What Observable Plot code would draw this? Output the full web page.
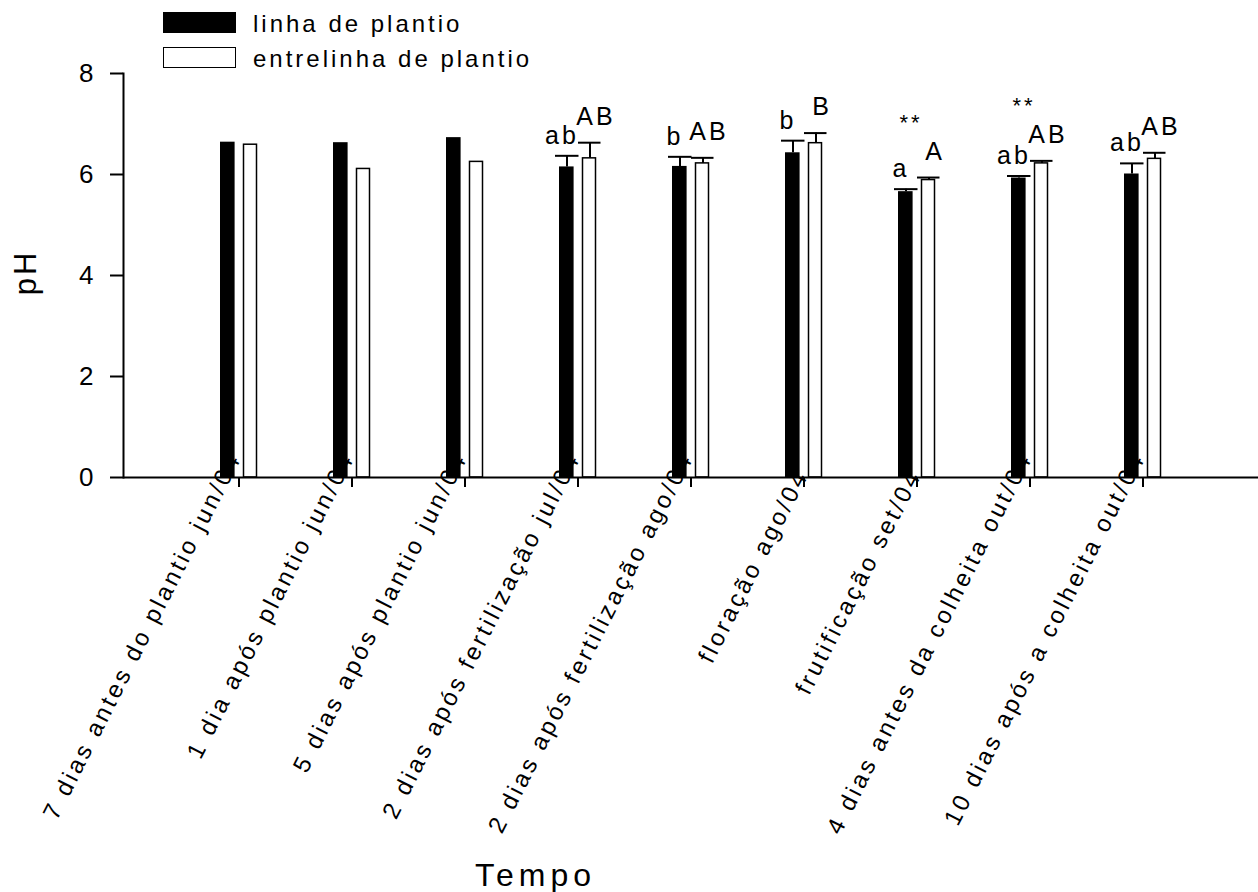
<!DOCTYPE html>
<html>
<head>
<meta charset="utf-8">
<script src="https://cdn.jsdelivr.net/npm/d3@7"></script>
<script src="https://cdn.jsdelivr.net/npm/@observablehq/plot@0.6"></script>
<style>
  html, body { margin: 0; padding: 0; background: #fff; }
  #wrap { position: relative; width: 1258px; height: 892px; font-family: "Liberation Sans", Arial, sans-serif; }
  #wrap svg text { letter-spacing: 3px; }
  .leg { position: absolute; left: 163px; width: 73px; height: 21px; box-sizing: border-box; }
  .legt { position: absolute; left: 253px; font-size: 24px; line-height: 24px; letter-spacing: 3px; color: #000; white-space: nowrap; }
</style>
</head>
<body>
<div id="wrap">
  <div class="leg" style="top:12px;background:#000;"></div>
  <div class="legt" style="top:12px;">linha de plantio</div>
  <div class="leg" style="top:47px;background:#fff;border:1.5px solid #000;"></div>
  <div class="legt" style="top:47px;">entrelinha de plantio</div>
</div>
<script>
const categories = [
  "7 dias antes do plantio jun/04",
  "1 dia após plantio jun/04",
  "5 dias após plantio jun/04",
  "2 dias após fertilização jul/04",
  "2 dias após fertilização ago/04",
  "floração ago/04",
  "frutificação set/04",
  "4 dias antes da colheita out/04",
  "10 dias após a colheita out/04"
];
const linha = [6.64, 6.63, 6.73, 6.15, 6.16, 6.43, 5.66, 5.93, 6.01];
const entrelinha = [6.59, 6.11, 6.25, 6.32, 6.22, 6.62, 5.89, 6.22, 6.31];
const linhaErr = [null, null, null, 0.22, 0.19, 0.24, 0.05, 0.04, 0.21];
const entrelinhaErr = [null, null, null, 0.31, 0.11, 0.20, 0.05, 0.05, 0.12];
const linhaLetters = ["", "", "", "ab", "b", "b", "a", "ab", "ab"];
const entrelinhaLetters = ["", "", "", "AB", "AB", "B", "A", "AB", "AB"];
const signif = ["", "", "", "", "", "", "**", "**", ""];
const yTicks = [0, 2, 4, 6, 8];

const rows = categories.map((c, i) => ({
  cat: c,
  linha: linha[i], entrelinha: entrelinha[i],
  le: linhaErr[i], ee: entrelinhaErr[i],
  ll: linhaLetters[i], el: entrelinhaLetters[i],
  sig: signif[i]
}));
const errRows = rows.filter(d => d.le != null);

const chart = Plot.plot({
  width: 1258,
  height: 892,
  marginLeft: 123,
  marginRight: 0,
  marginTop: 73,
  marginBottom: 415,
  style: {fontFamily: "'Liberation Sans', Arial, sans-serif", fontSize: "24px", color: "#000", background: "#fff", overflow: "visible"},
  x: {type: "band", domain: categories, paddingInner: 0.67, paddingOuter: 0.835, axis: null},
  y: {domain: [0, 8], axis: null},
  marks: [
    // rotated category labels (drawn beneath bars)
    Plot.text(categories.filter(d => d.length > 20), {x: d => d, text: d => d, frameAnchor: "bottom", rotate: -63, textAnchor: "end", lineAnchor: "bottom", dx: 3, dy: -20, fontSize: 24, fill: "#000"}),
    Plot.text(categories.filter(d => d.length <= 20), {x: d => d, text: d => d, frameAnchor: "bottom", rotate: -63, textAnchor: "end", lineAnchor: "bottom", dx: 5, dy: -3, fontSize: 24, fill: "#000"}),
    // bars
    Plot.barY(rows, {x: "cat", y: "linha", fill: "#000", insetRight: 22.4}),
    Plot.barY(rows, {x: "cat", y: "entrelinha", fill: "#fff", stroke: "#000", strokeWidth: 1.5, insetLeft: 23.5, insetRight: 0.5}),
    // error bars
    Plot.ruleX(errRows, {x: "cat", y1: "linha", y2: d => d.linha + d.le, dx: -11, stroke: "#000", strokeWidth: 2}),
    Plot.tickY(errRows, {x: "cat", y: d => d.linha + d.le, insetLeft: -4, insetRight: 17.5, stroke: "#000", strokeWidth: 2}),
    Plot.ruleX(errRows, {x: "cat", y1: "entrelinha", y2: d => d.entrelinha + d.ee, dx: 12, stroke: "#000", strokeWidth: 2}),
    Plot.tickY(errRows, {x: "cat", y: d => d.entrelinha + d.ee, insetLeft: 19, insetRight: -4.5, stroke: "#000", strokeWidth: 2}),
    // letters
    Plot.text(errRows, {x: "cat", y: d => d.linha + d.le, text: "ll", dx: -16, dy: -12, lineAnchor: "bottom", fontSize: 25, fill: "#000"}),
    Plot.text(errRows, {x: "cat", y: d => d.entrelinha + d.ee, text: "el", dx: 18, dy: -18, lineAnchor: "bottom", fontSize: 25, fill: "#000"}),
    Plot.text(errRows.filter(d => d.sig), {x: "cat", y: d => Math.max(d.linha + d.le, d.entrelinha + d.ee), text: "sig", dx: -6, dy: -48, lineAnchor: "bottom", fontSize: 22, fill: "#000"}),
    // axes
    Plot.ruleY([0], {stroke: "#000", strokeWidth: 2}),
    Plot.frame({anchor: "left", stroke: "#000", strokeWidth: 2}),
    Plot.axisY({ticks: yTicks, tickSize: 13, tickPadding: 14, fontSize: 26, stroke: "#000", strokeWidth: 2, label: null}),
    Plot.axisX({tickSize: 10, tickFormat: () => "", stroke: "#000", strokeWidth: 2, label: null}),
    // axis titles
    Plot.text(["pH"], {frameAnchor: "left", rotate: -90, textAnchor: "middle", lineAnchor: "bottom", dx: -88, dy: -3, fontSize: 31, fill: "#000"}),
    Plot.text(["Tempo"], {frameAnchor: "bottom-left", textAnchor: "middle", lineAnchor: "bottom", dx: 412, dy: 408, fontSize: 32, fill: "#000"})
  ]
});
// wider letter spacing on the x-axis title and tick labels, as in the original
d3.select(chart).selectAll("text").each(function() {
  const t = this.textContent;
  if (t === "Tempo") this.style.letterSpacing = "5px";
  else if (categories.includes(t)) this.style.letterSpacing = "3.2px";
});
chart.style.position = "absolute";
chart.style.left = "0";
chart.style.top = "0";
document.getElementById("wrap").prepend(chart);
</script>
</body>
</html>
